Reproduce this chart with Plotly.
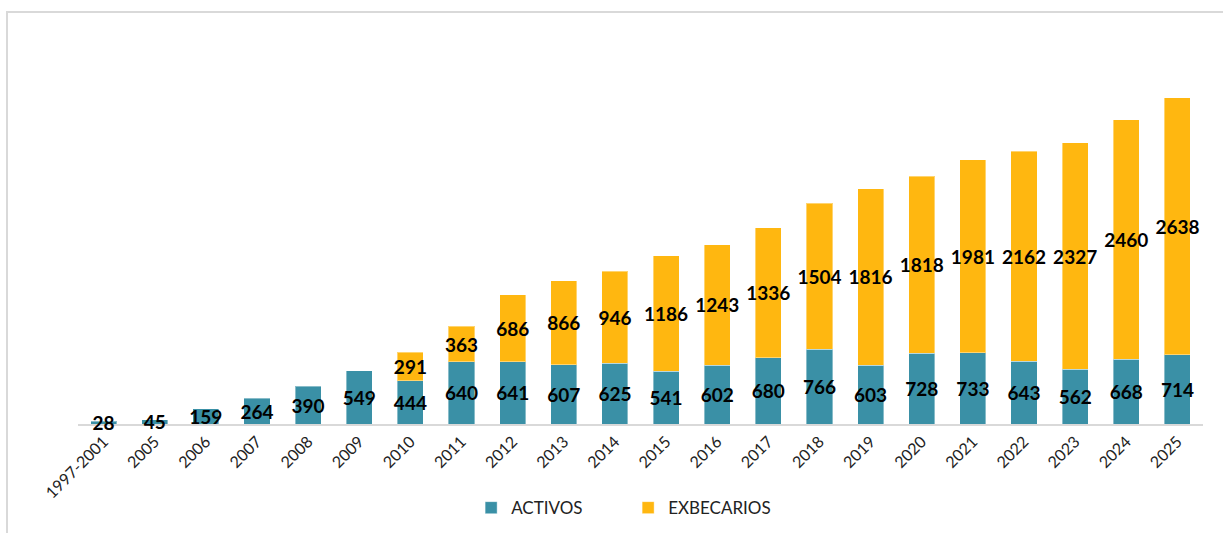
import plotly.graph_objects as go

categories = ["1997-2001", "2005", "2006", "2007", "2008", "2009", "2010", "2011", "2012",
              "2013", "2014", "2015", "2016", "2017", "2018", "2019", "2020", "2021",
              "2022", "2023", "2024", "2025"]
activos = [28, 45, 159, 264, 390, 549, 444, 640, 641, 607, 625, 541, 602, 680, 766,
           603, 728, 733, 643, 562, 668, 714]
exbecarios = [None, None, None, None, None, None, 291, 363, 686, 866, 946, 1186, 1243,
              1336, 1504, 1816, 1818, 1981, 2162, 2327, 2460, 2638]

TEAL = "#3A90A6"
GOLD = "#FFB710"
label_font = dict(family="Lato, Open Sans, sans-serif", size=19, color="#000000", weight="bold")

fig = go.Figure()
fig.add_trace(go.Bar(
    x=categories, y=activos, name="ACTIVOS", marker=dict(color=TEAL, line=dict(color="rgba(255,255,255,0.4)", width=1)),
    text=[str(v) for v in activos], textposition="inside", insidetextanchor="middle",
    textangle=0, constraintext="none", textfont=label_font, cliponaxis=False,
))
fig.add_trace(go.Bar(
    x=categories, y=exbecarios, name="EXBECARIOS", marker=dict(color=GOLD, line=dict(color="rgba(255,255,255,0.4)", width=1)),
    text=["" if v is None else str(v) for v in exbecarios], textposition="inside", insidetextanchor="middle",
    textangle=0, constraintext="none", textfont=label_font, cliponaxis=False,
))

fig.update_layout(
    barmode="stack",
    bargap=0.49,
    width=1223, height=533,
    margin=dict(l=78, r=20, t=40, b=109, autoexpand=False),
    plot_bgcolor="white", paper_bgcolor="white",
    uniformtext=dict(mode=False),
    xaxis=dict(
        showline=True, linecolor="#D9D9D9", linewidth=2, ticks="", tickangle=-45,
        tickfont=dict(family="Lato, Open Sans, sans-serif", size=16, color="#222222"),
        showgrid=False, automargin=False, layer="below traces",
    ),
    yaxis=dict(range=[0, 3947], visible=False, showgrid=False, automargin=False),
    legend=dict(
        orientation="h", x=0.489, xanchor="center", y=-0.219, yanchor="middle",
        font=dict(family="Lato, Open Sans, sans-serif", size=17, color="#222222"),
        entrywidth=112, traceorder="normal",
    ),
    shapes=[dict(
        type="rect", xref="paper", yref="paper",
        x0=-0.0631, x1=1.1, y0=-0.5, y1=1.0729,
        line=dict(color="#D9D9D9", width=2), fillcolor="rgba(0,0,0,0)", layer="below",
    )],
)

fig.write_html("out.html", config={"displayModeBar": False},
               post_script="document.body.style.margin='0';document.body.style.padding='0';")
